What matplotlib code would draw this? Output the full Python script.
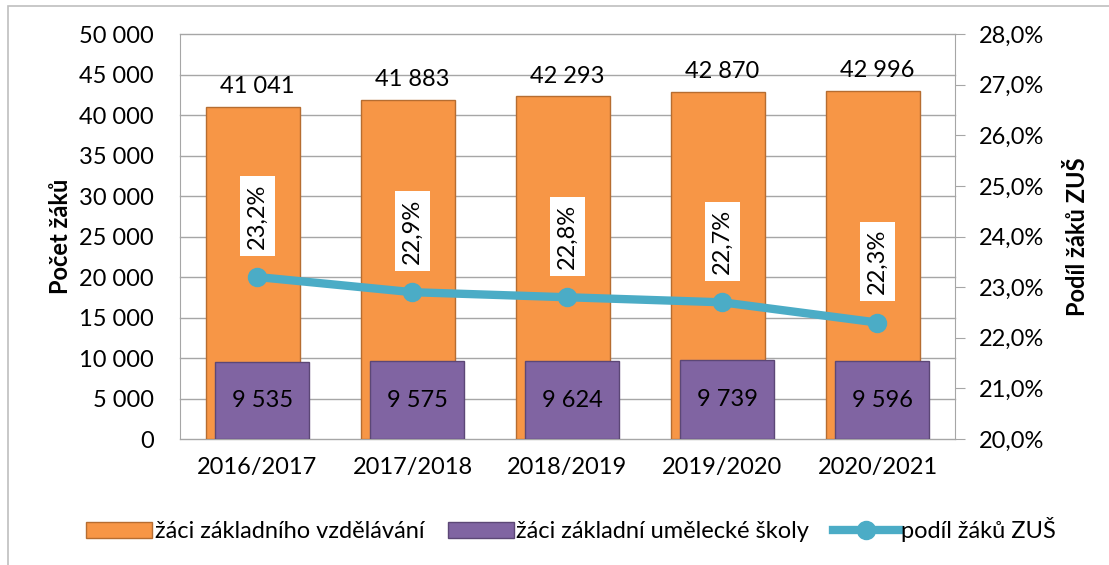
import matplotlib.pyplot as plt
import matplotlib.patches as mpatches
from matplotlib.lines import Line2D
import numpy as np

plt.rcParams['font.family'] = ['Lato', 'DejaVu Sans']

years = ['2016/2017', '2017/2018', '2018/2019', '2019/2020', '2020/2021']
zaci_zv = [41041, 41883, 42293, 42870, 42996]
zaci_zus = [9535, 9575, 9624, 9739, 9596]
podil = [23.2, 22.9, 22.8, 22.7, 22.3]

orange = '#F79646'
purple = '#8064A2'
teal = '#4BACC6'
grid_c = '#A6A6A6'
fs = 17

def fmt(v):
    return f"{v:,}".replace(",", " ")

fig = plt.figure(figsize=(11.09, 5.65), dpi=100)
ax = fig.add_axes([0.1623, 0.223, 0.6988, 0.7168])

x = np.arange(len(years))
w = 0.606
ax.bar(x - 0.031, zaci_zv, w, color=orange, edgecolor='#B66D31', linewidth=1, zorder=2)
ax.bar(x + 0.031, zaci_zus, w, color=purple, edgecolor='#5C4776', linewidth=1, zorder=3)

for i in range(len(years)):
    ax.text(x[i], zaci_zv[i] + 2500, fmt(zaci_zv[i]), ha='center', va='center', fontsize=fs, zorder=4)
    ax.text(x[i] + 0.031, zaci_zus[i] / 2, fmt(zaci_zus[i]), ha='center', va='center', fontsize=fs, zorder=4)

ax.set_xlim(-0.5, 4.5)
ax.set_ylim(0, 50000)
yt = np.arange(0, 50001, 5000)
ax.set_yticks(yt)
ax.set_yticklabels([fmt(v) for v in yt])
for v in yt:
    ax.axhline(v, color=grid_c, lw=1, zorder=1, clip_on=False)
ax.set_xticks(x)
ax.set_xticklabels(years)
ax.tick_params(axis='y', length=0, pad=19, labelsize=fs)
ax.tick_params(axis='x', length=0, pad=13, labelsize=fs)
for s in ['top', 'bottom', 'right']:
    ax.spines[s].set_visible(False)
ax.spines['left'].set_color(grid_c)
ax.set_ylabel('Počet žáků', fontsize=fs, fontweight='bold', labelpad=5)

ax2 = ax.twinx()
ax2.plot(x, podil, color=teal, lw=6, marker='o', markersize=13, zorder=5)
ax2.set_ylim(20, 28)
ax2.set_yticks(np.arange(20, 28.1, 1))
ax2.set_yticklabels([f"{v:.1f}%".replace('.', ',') for v in np.arange(20, 28.1, 1)])
ax2.tick_params(axis='y', length=7, color=grid_c, pad=10, labelsize=fs, direction='out')
for s in ['top', 'bottom', 'left']:
    ax2.spines[s].set_visible(False)
ax2.spines['right'].set_color(grid_c)
ax2.set_ylabel('Podíl žáků ZUŠ', fontsize=fs, fontweight='bold', labelpad=16)

for i in range(len(years)):
    ax2.annotate(f"{podil[i]:.1f}%".replace('.', ','), (x[i], podil[i]),
                 xytext=(0, 44), textcoords='offset points', rotation=90,
                 ha='center', va='center', fontsize=fs,
                 bbox=dict(boxstyle='square,pad=0.3', fc='white', ec='none'))

handles = [mpatches.Patch(facecolor=orange, edgecolor='#B66D31'),
           mpatches.Patch(facecolor=purple, edgecolor='#5C4776'),
           Line2D([0], [0], color=teal, lw=6, marker='o', markersize=13)]
labels = ['žáci základního vzdělávání', 'žáci základní umělecké školy', 'podíl žáků ZUŠ']
fig.legend(handles, labels, loc='center', bbox_to_anchor=(0.515, 0.062), ncol=3,
           frameon=False, fontsize=fs, handlelength=2.8, handletextpad=0.1, columnspacing=1.0)

fig.patches.append(mpatches.Rectangle((0.007, -0.05), 1.1, 1.04, transform=fig.transFigure,
                                      fill=False, edgecolor='#BFBFBF', lw=1.2))

fig.savefig('out.png', dpi=100)
